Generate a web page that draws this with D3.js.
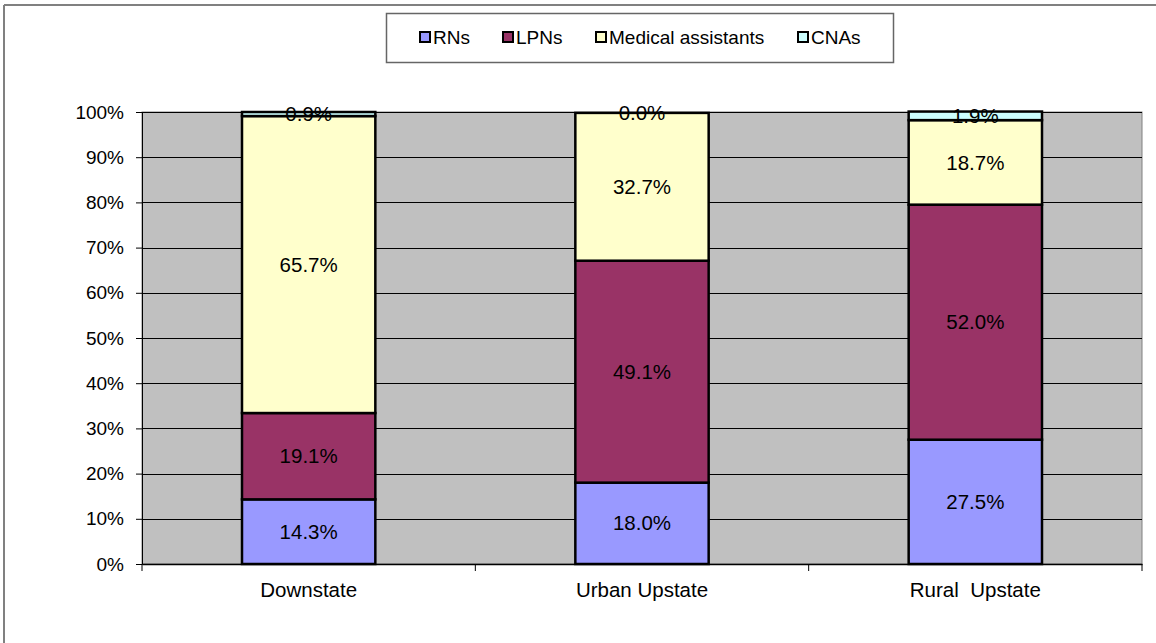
<!DOCTYPE html>
<html>
<head>
<meta charset="utf-8">
<script src="https://cdn.jsdelivr.net/npm/d3@7"></script>
<style>
  body { margin: 0; background: #fff; }
  svg { display: block; font-family: "Liberation Sans", Arial, sans-serif; }
</style>
</head>
<body>
<div id="chart"></div>
<script>
/*************************************/
/* Data                              */
/*************************************/

const categories = ['Downstate', 'Urban Upstate', 'Rural  Upstate'];
const seriesNames = ['RNs', 'LPNs', 'Medical assistants', 'CNAs'];
const rns = [14.3, 18.0, 27.5];
const lpns = [19.1, 49.1, 52.0];
const medAssistants = [65.7, 32.7, 18.7];
const cnas = [0.9, 0.0, 1.9];
const yTicks = [0, 10, 20, 30, 40, 50, 60, 70, 80, 90, 100];

const colors = ['#9999FF', '#993366', '#FFFFCC', '#CCFFFF'];

/*************************************/
/* Layout                            */
/*************************************/

const width = 1156;
const height = 643;
const plot = { left: 142, right: 1142, top: 112, bottom: 564 };

const svg = d3.select('#chart')
  .append('svg')
  .attr('width', width)
  .attr('height', height);

// Outer frame (only top and left edges visible)
svg.append('line')
  .attr('x1', 4).attr('y1', 5).attr('x2', width).attr('y2', 5)
  .attr('stroke', '#808080').attr('stroke-width', 2);
svg.append('line')
  .attr('x1', 4).attr('y1', 5).attr('x2', 4).attr('y2', height)
  .attr('stroke', '#808080').attr('stroke-width', 2);

// Scales
const x = d3.scaleBand()
  .domain(categories)
  .range([plot.left, plot.right])
  .padding(0);
const barWidth = x.bandwidth() * 0.4;

const y = d3.scaleLinear()
  .domain([0, 100])
  .range([plot.bottom, plot.top]);

// Plot background
svg.append('rect')
  .attr('x', plot.left)
  .attr('y', plot.top)
  .attr('width', plot.right - plot.left)
  .attr('height', plot.bottom - plot.top)
  .attr('fill', '#C0C0C0')
  .attr('stroke', '#808080')
  .attr('stroke-width', 1);

// Gridlines
svg.append('g')
  .selectAll('line')
  .data(yTicks.filter(d => d > 0))
  .join('line')
    .attr('x1', plot.left)
    .attr('x2', plot.right)
    .attr('y1', d => Math.round(y(d)) + 0.5)
    .attr('y2', d => Math.round(y(d)) + 0.5)
    .attr('stroke', '#000')
    .attr('stroke-width', 1);

// Y axis
const yAxis = d3.axisLeft(y)
  .tickValues(yTicks)
  .tickSize(6)
  .tickPadding(12)
  .tickFormat(d => d + '%');

svg.append('g')
  .attr('transform', `translate(${plot.left},0)`)
  .call(yAxis)
  .call(g => g.select('.domain').attr('stroke', '#000'))
  .call(g => g.selectAll('.tick line').attr('stroke', '#000'))
  .call(g => g.selectAll('text')
    .attr('font-size', 19)
    .attr('font-family', '"Liberation Sans", Arial, sans-serif')
    .attr('fill', '#000'));

// X axis
const xAxis = d3.axisBottom(x)
  .tickSize(0)
  .tickPadding(18);

svg.append('g')
  .attr('transform', `translate(0,${plot.bottom})`)
  .call(xAxis)
  .call(g => g.select('.domain').attr('stroke', '#000').attr('stroke-width', 1.5))
  .call(g => g.selectAll('text')
    .attr('font-size', 20.5)
    .attr('font-family', '"Liberation Sans", Arial, sans-serif')
    .attr('fill', '#000')
    .style('white-space', 'pre'));

// Category boundary ticks
const boundaries = categories.map(c => x(c)).concat([plot.right]);
svg.append('g')
  .selectAll('line')
  .data(boundaries)
  .join('line')
    .attr('x1', d => d)
    .attr('x2', d => d)
    .attr('y1', plot.bottom)
    .attr('y2', plot.bottom + 7)
    .attr('stroke', '#000');

/*************************************/
/* Stacked bars                      */
/*************************************/

const rows = categories.map((c, i) => ({
  category: c,
  'RNs': rns[i],
  'LPNs': lpns[i],
  'Medical assistants': medAssistants[i],
  'CNAs': cnas[i]
}));

const stacked = d3.stack().keys(seriesNames)(rows);

const layers = svg.append('g')
  .selectAll('g')
  .data(stacked)
  .join('g')
    .attr('fill', (d, i) => colors[i]);

layers.selectAll('rect')
  .data(d => d)
  .join('rect')
    .attr('x', d => x(d.data.category) + (x.bandwidth() - barWidth) / 2)
    .attr('y', d => y(d[1]))
    .attr('width', barWidth)
    .attr('height', d => y(d[0]) - y(d[1]))
    .attr('stroke', '#000')
    .attr('stroke-width', 2.5);

// Value labels
layers.selectAll('text')
  .data(d => d.map(v => ({ v, key: d.key })))
  .join('text')
    .attr('x', d => x(d.v.data.category) + x.bandwidth() / 2)
    .attr('y', d => y((d.v[0] + d.v[1]) / 2))
    .attr('dy', '0.35em')
    .attr('text-anchor', 'middle')
    .attr('font-size', 20.5)
    .attr('fill', '#000')
    .text(d => d.v.data[d.key].toFixed(1) + '%');

/*************************************/
/* Legend                            */
/*************************************/

const legend = svg.append('g');
legend.append('rect')
  .attr('x', 386.5)
  .attr('y', 13.5)
  .attr('width', 507)
  .attr('height', 49)
  .attr('fill', '#fff')
  .attr('stroke', '#666')
  .attr('stroke-width', 1.5);

const legendX = [420, 503, 596, 798];
const item = legend.selectAll('g.item')
  .data(seriesNames)
  .join('g')
    .attr('class', 'item')
    .attr('transform', (d, i) => `translate(${legendX[i]},37)`);

item.append('rect')
  .attr('x', 0)
  .attr('y', -5)
  .attr('width', 10)
  .attr('height', 10)
  .attr('fill', (d, i) => colors[i])
  .attr('stroke', '#000')
  .attr('stroke-width', 2);

item.append('text')
  .attr('x', 13)
  .attr('dy', '0.35em')
  .attr('font-size', 19)
  .attr('fill', '#000')
  .text(d => d);
</script>
</body>
</html>
